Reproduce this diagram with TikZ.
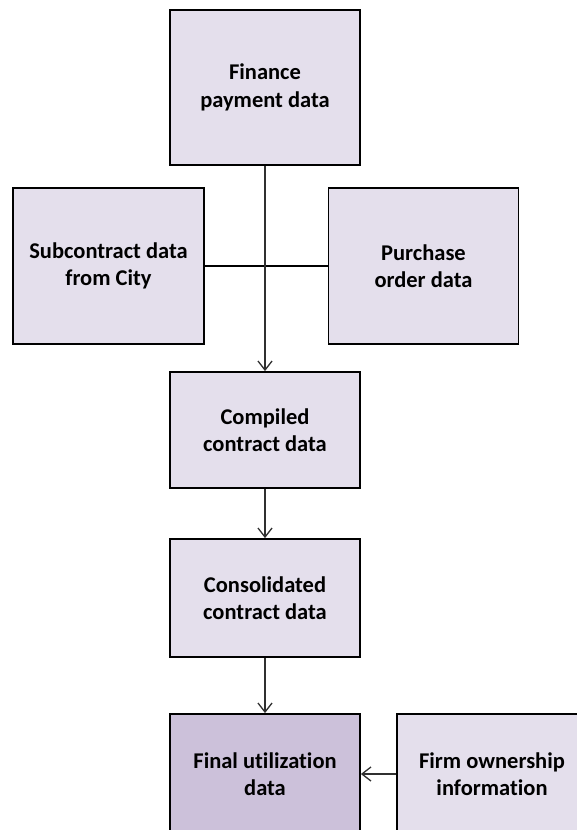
\documentclass[tikz,border=0pt]{standalone}
\usepackage{fontspec}
\setmainfont{Carlito}[Ligatures=NoCommon]
\usetikzlibrary{arrows.meta}
\definecolor{boxfill}{HTML}{E4DFEC}
\definecolor{finalfill}{HTML}{CCC1DA}
\definecolor{conncol}{HTML}{303030}
\begin{document}
\begin{tikzpicture}[x=1pt,y=-1pt,
  databox/.style={rectangle,draw=black,line width=1.8pt,fill=boxfill,
    align=center,font=\fontsize{22.5}{27.5}\selectfont\bfseries,inner sep=0pt},
  conn/.style={draw=conncol,line width=1.3pt},
  arr/.style={conn,-{Straight Barb[length=9pt,width=14pt,line width=1.3pt]}}]
\path[use as bounding box,clip] (0,0) rectangle (577,830);
\node[databox,minimum width=190pt,minimum height=155pt] (fin) at (265,87.5) {Finance\\payment data};
\node[databox,minimum width=191pt,minimum height=156pt] (sub) at (108.5,266) {Subcontract data\\from City};
\node[databox,minimum width=190pt,minimum height=156pt] (pur) at (423.5,266) {Purchase\\order data};
\node[databox,minimum width=190pt,minimum height=116pt] (comp) at (265,430) {Compiled\\contract data};
\node[databox,minimum width=190pt,minimum height=118pt] (cons) at (265,598) {Consolidated\\contract data};
\node[databox,fill=finalfill,minimum width=190pt,minimum height=120pt] (final) at (265,774) {Final utilization\\data};
\node[databox,minimum width=190pt,minimum height=120pt] (firm) at (492,774) {Firm ownership\\information};
\draw[conn,draw=black] (sub.east) -- (pur.west);
\draw[arr] (fin.south) -- (comp.north);
\draw[arr] (comp.south) -- (cons.north);
\draw[arr] (cons.south) -- (final.north);
\draw[arr] (firm.west) -- (final.east);
\end{tikzpicture}
\end{document}
